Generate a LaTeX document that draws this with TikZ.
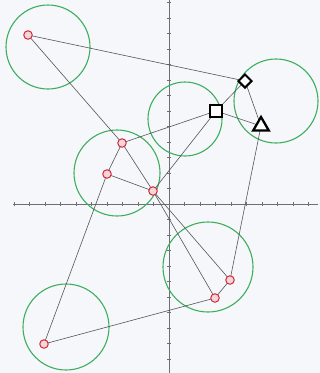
\documentclass[tikz,border=0pt]{standalone}
\usetikzlibrary{shapes.geometric}
\definecolor{paper}{RGB}{246,247,250}
\definecolor{ringgreen}{RGB}{60,175,95}
\definecolor{dotred}{RGB}{205,45,60}
\definecolor{pencil}{RGB}{85,85,90}
\definecolor{axisgray}{RGB}{110,110,115}
\begin{document}
\begin{tikzpicture}[x=1pt,y=-1pt,
  ring/.style={draw=ringgreen,line width=1.1pt},
  dot/.style={circle,draw=dotred,line width=1pt,fill=white!80!dotred,minimum size=8.5pt,inner sep=0pt},
  link/.style={draw=pencil,line width=0.6pt},
  axis/.style={draw=axisgray,line width=0.6pt},
  sq/.style={rectangle,draw=black,line width=2.4pt,fill=white,minimum size=12pt,inner sep=0pt},
  dm/.style={diamond,draw=black,line width=2pt,fill=white,minimum size=14pt,inner sep=0pt},
  tri/.style={regular polygon,regular polygon sides=3,draw=black,line width=2.3pt,fill=white,minimum size=18pt,inner sep=0pt}]
\fill[paper] (0,0) rectangle (320,373);
\useasboundingbox (0,0) rectangle (320,373);
% axes
\draw[axis] (13,204) -- (318,204);
\draw[axis] (169,0) -- (169,373);
\foreach \k in {-10,...,9} {
  \pgfmathsetmacro{\xx}{169+15.5*\k}
  \ifdim \xx pt>12pt \draw[axis,line width=0.4pt] (\xx,202) -- (\xx,206); \fi
}
\foreach \k in {-13,...,11} {
  \pgfmathsetmacro{\yy}{204+15.5*\k}
  \ifdim \yy pt>2pt \draw[axis,line width=0.4pt] (167,\yy) -- (171,\yy); \fi
}
% green circles
\draw[ring] (48,47) circle (42);
\draw[ring] (276,101) circle (42);
\draw[ring] (185,119) circle (37);
\draw[ring] (117,173) circle (43);
\draw[ring] (208,267) circle (45);
\draw[ring] (66,327) circle (43);
% points
\coordinate (p1) at (28,35);
\coordinate (p2) at (122,143);
\coordinate (p3) at (107,174);
\coordinate (p4) at (153,191);
\coordinate (p5) at (230,280);
\coordinate (p6) at (215,298);
\coordinate (p7) at (44,344);
\coordinate (sqc) at (216,111);
\coordinate (dmc) at (245,81);
\coordinate (trc) at (261,126);
% connectors
\draw[link] (p1) -- (dmc);
\draw[link] (p1) -- (p2);
\draw[link] (p2) -- (sqc);
\draw[link] (p2) -- (p3);
\draw[link] (p2) -- (p4);
\draw[link] (p3) -- (p4);
\draw[link] (p3) -- (p7);
\draw[link] (p4) -- (sqc);
\draw[link] (p4) -- (p5);
\draw[link] (p4) -- (p6);
\draw[link] (p5) -- (p6);
\draw[link] (p5) -- (trc);
\draw[link] (p6) -- (p7);
\draw[link] (sqc) -- (dmc);
\draw[link] (sqc) -- (trc);
\draw[link] (dmc) -- (trc);
% markers
\foreach \p in {p1,p2,p3,p4,p5,p6,p7} { \node[dot] (n\p) at (\p) {}; }
\node[sq] (square) at (sqc) {};
\node[dm] (dia) at (dmc) {};
\node[tri] (triangle) at (trc) {};
\end{tikzpicture}
\end{document}
